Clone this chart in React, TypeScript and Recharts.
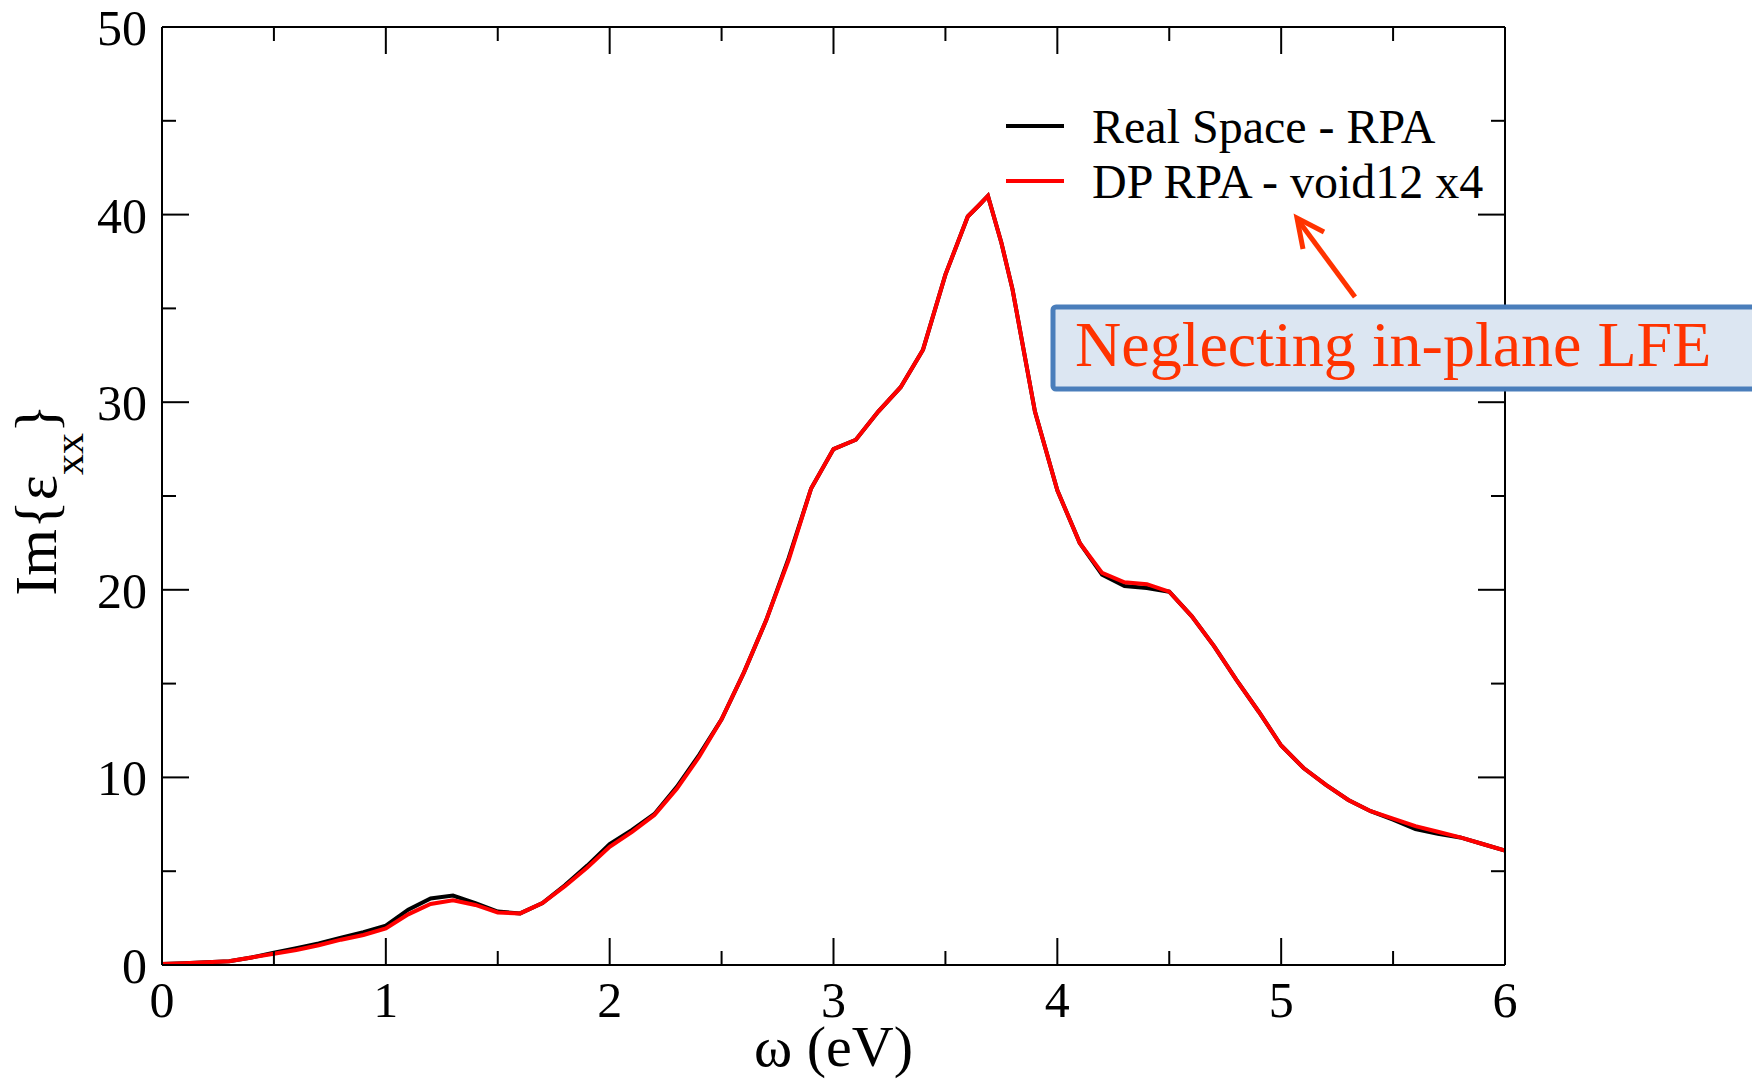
import React from 'react';
import { LineChart, Line, XAxis, YAxis, Legend, Label } from 'recharts';

// photon energy (eV)
const omega = [
  0, 0.1, 0.2, 0.3, 0.4, 0.5, 0.6, 0.7, 0.8, 0.9,
  1.0, 1.1, 1.2, 1.3, 1.4, 1.5, 1.6, 1.7, 1.8, 1.9,
  2.0, 2.1, 2.2, 2.3, 2.4, 2.5, 2.6, 2.7, 2.8, 2.9,
  3.0, 3.1, 3.2, 3.3, 3.4, 3.5, 3.6, 3.65, 3.69, 3.75,
  3.8, 3.9, 4.0, 4.1, 4.2, 4.3, 4.4, 4.5, 4.6, 4.7,
  4.8, 4.9, 5.0, 5.1, 5.2, 5.3, 5.4, 5.5, 5.6, 5.7,
  5.8, 5.9, 6.0,
];

// Im{eps_xx}, real space RPA (black)
const realSpaceRpa = [
  0.05, 0.1, 0.15, 0.2, 0.4, 0.65, 0.9, 1.15, 1.45, 1.75,
  2.1, 2.95, 3.55, 3.7, 3.3, 2.85, 2.75, 3.3, 4.25, 5.3,
  6.45, 7.2, 8.05, 9.5, 11.2, 13.1, 15.6, 18.4, 21.7, 25.4,
  27.5, 28.0, 29.5, 30.8, 32.8, 36.8, 39.9, 40.5, 41.0, 38.5,
  36.0, 29.5, 25.3, 22.5, 20.8, 20.2, 20.1, 19.9, 18.6, 17.0,
  15.2, 13.5, 11.7, 10.5, 9.6, 8.8, 8.2, 7.75, 7.25, 7.0,
  6.8, 6.45, 6.1,
];

// Im{eps_xx}, DP RPA void12 x4 (red)
const dpRpaVoid12 = [
  0.05, 0.1, 0.15, 0.2, 0.4, 0.6, 0.8, 1.05, 1.35, 1.6,
  1.95, 2.7, 3.25, 3.45, 3.2, 2.8, 2.75, 3.3, 4.2, 5.2,
  6.3, 7.1, 8.0, 9.4, 11.1, 13.1, 15.6, 18.4, 21.6, 25.4,
  27.5, 28.0, 29.5, 30.8, 32.8, 36.8, 39.9, 40.5, 41.0, 38.5,
  36.0, 29.5, 25.3, 22.5, 20.9, 20.4, 20.3, 19.9, 18.6, 17.0,
  15.2, 13.5, 11.7, 10.5, 9.6, 8.8, 8.2, 7.8, 7.4, 7.1,
  6.8, 6.45, 6.1,
];

const xTicks = [0, 0.5, 1, 1.5, 2, 2.5, 3, 3.5, 4, 4.5, 5, 5.5, 6];
const yTicks = [0, 5, 10, 15, 20, 25, 30, 35, 40, 45, 50];
const seriesNames = ['Real Space - RPA', 'DP RPA - void12 x4'];
const annotationText = 'Neglecting in-plane LFE';

const data = omega.map((w, i) => ({ w, real: realSpaceRpa[i], dp: dpRpaVoid12[i] }));

const SERIF = '"Liberation Serif", "Times New Roman", serif';
const MAJOR = 27;
const MINOR = 14;

function BottomTick({ x, y, payload }: any) {
  const major = Number.isInteger(payload.value);
  return (
    <g>
      <line x1={x} x2={x} y1={y} y2={y - (major ? MAJOR : MINOR)} stroke="#000" strokeWidth={2} />
      {major && (
        <text x={x} y={y + 52} textAnchor="middle" fontSize={50} fontFamily={SERIF} fill="#000">
          {payload.value}
        </text>
      )}
    </g>
  );
}

function TopTick({ x, y, payload }: any) {
  const major = Number.isInteger(payload.value);
  return <line x1={x} x2={x} y1={y} y2={y + (major ? MAJOR : MINOR)} stroke="#000" strokeWidth={2} />;
}

function LeftTick({ x, y, payload }: any) {
  const major = payload.value % 10 === 0;
  return (
    <g>
      <line x1={x} x2={x + (major ? MAJOR : MINOR)} y1={y} y2={y} stroke="#000" strokeWidth={2} />
      {major && (
        <text x={x - 15} y={y + 18} textAnchor="end" fontSize={50} fontFamily={SERIF} fill="#000">
          {payload.value}
        </text>
      )}
    </g>
  );
}

function RightTick({ x, y, payload }: any) {
  const major = payload.value % 10 === 0;
  return <line x1={x} x2={x - (major ? MAJOR : MINOR)} y1={y} y2={y} stroke="#000" strokeWidth={2} />;
}

function LegendContent({ payload }: any) {
  const items = [...(payload || [])].sort(
    (a: any, b: any) => seriesNames.indexOf(a.value) - seriesNames.indexOf(b.value)
  );
  return (
    <svg width={540} height={120}>
      {items.map((p: any, i: number) => (
        <g key={p.value}>
          <line x1={6} x2={64} y1={36 + i * 55} y2={36 + i * 55} stroke={p.color} strokeWidth={4} />
          <text x={92} y={53 + i * 55} fontSize={48} fontFamily={SERIF} fill="#000">
            {p.value}
          </text>
        </g>
      ))}
    </svg>
  );
}

const axisLine = { stroke: '#000', strokeWidth: 2 };

export default function App() {
  return (
    <div style={{ position: 'absolute', left: 0, top: 0, width: 1752, height: 1084, background: '#fff' }}>
      <LineChart
        width={1752}
        height={1084}
        data={data}
        margin={{ top: 17, right: 237, bottom: 59, left: 102 }}
        style={{ fontFamily: SERIF }}
      >
        <XAxis
          dataKey="w"
          type="number"
          domain={[0, 6]}
          ticks={xTicks}
          interval={0}
          allowDataOverflow
          height={60}
          tickSize={0}
          tickMargin={0}
          tickLine={false}
          axisLine={axisLine}
          tick={<BottomTick />}
        >
          <Label
            content={({ viewBox }: any) => (
              <text
                x={viewBox.x + viewBox.width / 2}
                y={viewBox.y + 101}
                textAnchor="middle"
                fontSize={58}
                fontFamily={SERIF}
                fill="#000"
              >
                ω (eV)
              </text>
            )}
          />
        </XAxis>
        <XAxis
          xAxisId="top"
          orientation="top"
          dataKey="w"
          type="number"
          domain={[0, 6]}
          ticks={xTicks}
          interval={0}
          allowDataOverflow
          height={10}
          tickSize={0}
          tickMargin={0}
          tickLine={false}
          axisLine={axisLine}
          tick={<TopTick />}
        />
        <YAxis
          type="number"
          domain={[0, 50]}
          ticks={yTicks}
          interval={0}
          allowDataOverflow
          width={60}
          tickSize={0}
          tickMargin={0}
          tickLine={false}
          axisLine={axisLine}
          tick={<LeftTick />}
        >
          <Label
            content={({ viewBox }: any) => {
              const cx = viewBox.x + viewBox.width - 106;
              const cy = viewBox.y + viewBox.height / 2 + 4;
              return (
                <text
                  x={cx}
                  y={cy}
                  transform={`rotate(-90 ${cx} ${cy})`}
                  textAnchor="middle"
                  fontSize={60}
                  fontFamily={SERIF}
                  fill="#000"
                >
                  <tspan>Im{'{'}ε</tspan>
                  <tspan dy={27} fontSize={42}>xx</tspan>
                  <tspan dy={-27}>{'}'}</tspan>
                </text>
              );
            }}
          />
        </YAxis>
        <YAxis
          yAxisId="right"
          orientation="right"
          type="number"
          domain={[0, 50]}
          ticks={yTicks}
          interval={0}
          allowDataOverflow
          width={10}
          tickSize={0}
          tickMargin={0}
          tickLine={false}
          axisLine={axisLine}
          tick={<RightTick />}
        />
        <Legend
          layout="vertical"
          align="center"
          verticalAlign="middle"
          content={<LegendContent />}
          wrapperStyle={{ left: 1000, top: 90, width: 540, height: 120 }}
        />
        <Line
          type="linear"
          dataKey="real"
          name={seriesNames[0]}
          stroke="#000"
          strokeWidth={4}
          dot={false}
          isAnimationActive={false}
        />
        <Line
          type="linear"
          dataKey="dp"
          name={seriesNames[1]}
          stroke="#ff0000"
          strokeWidth={4}
          dot={false}
          isAnimationActive={false}
        />
      </LineChart>
      <svg
        width={1752}
        height={1084}
        style={{ position: 'absolute', left: 0, top: 0, pointerEvents: 'none' }}
      >
        <line x1={1355} y1={297} x2={1298} y2={220} stroke="#ff3300" strokeWidth={5} />
        <polyline
          points="1303,249 1297,218 1324,232"
          fill="none"
          stroke="#ff3300"
          strokeWidth={5}
          strokeLinejoin="miter"
        />
        <rect x={1053} y={307} width={720} height={82} rx={3} fill="#dce6f2" stroke="#4a7ebb" strokeWidth={5} />
        <text x={1075} y={366} fontSize={64} fontFamily={SERIF} fill="#ff3300">
          {annotationText}
        </text>
      </svg>
    </div>
  );
}
